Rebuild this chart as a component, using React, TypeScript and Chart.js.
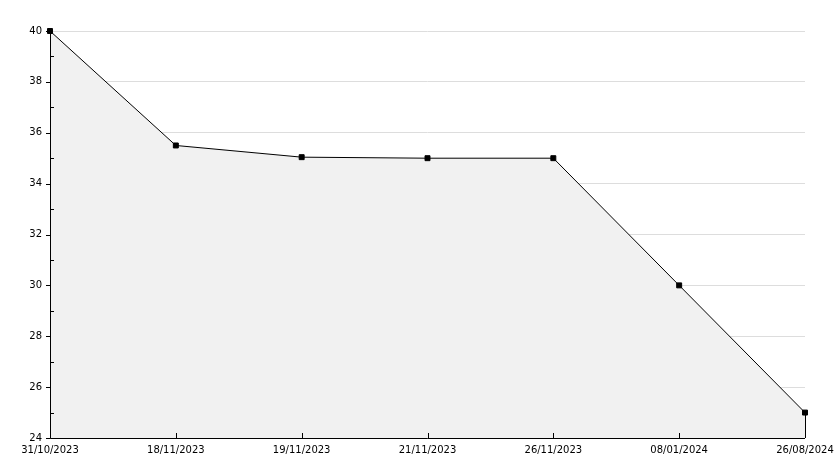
import React, { useEffect, useRef } from "react";
import { Chart, registerables } from "chart.js";

Chart.register(...registerables);

const categories = ["31/10/2023", "18/11/2023", "19/11/2023", "21/11/2023", "26/11/2023", "08/01/2024", "26/08/2024"];
const values = [40, 35.5, 35.04, 35, 35, 30, 25];
const yMin = 24;
const yMax = 40;

const axisPlugin = {
  id: "axisPlugin",
  afterDatasetsDraw(chart: any) {
    const { ctx, chartArea } = chart;
    const { left, right, top, bottom } = chartArea;
    const y = chart.scales.y;
    const x = chart.scales.x;
    ctx.save();
    ctx.strokeStyle = "#000";
    ctx.lineWidth = 1;
    ctx.beginPath();
    ctx.moveTo(left + 0.5, top);
    ctx.lineTo(left + 0.5, bottom + 0.5);
    ctx.lineTo(right, bottom + 0.5);
    for (let v = yMin; v <= yMax; v++) {
      const py = Math.round(y.getPixelForValue(v)) + 0.5;
      if (v % 2 === 0) {
        ctx.moveTo(left - 4, py);
        ctx.lineTo(left + 0.5, py);
      } else {
        ctx.moveTo(left + 0.5, py);
        ctx.lineTo(left + 4, py);
      }
    }
    for (let i = 1; i < categories.length - 1; i++) {
      const px = Math.round(x.getPixelForValue(i)) + 0.5;
      ctx.moveTo(px, bottom);
      ctx.lineTo(px, bottom - 5);
    }
    const lastX = Math.round(x.getPixelForValue(categories.length - 1)) + 0.5;
    ctx.moveTo(lastX, y.getPixelForValue(values[values.length - 1]));
    ctx.lineTo(lastX, bottom);
    ctx.stroke();
    ctx.restore();
  },
};

export default function App() {
  const ref = useRef<HTMLCanvasElement>(null);
  useEffect(() => {
    const chart = new Chart(ref.current!, {
      type: "line",
      data: {
        labels: categories,
        datasets: [
          {
            data: values,
            borderColor: "#000",
            borderWidth: 1,
            backgroundColor: "#f1f1f1",
            fill: "start",
            tension: 0,
            clip: false,
            pointStyle: "rect",
            pointRadius: 3.5,
            pointBackgroundColor: "#000",
            pointBorderColor: "#000",
            pointBorderWidth: 1,
          },
        ],
      },
      options: {
        animation: false,
        responsive: false,
        maintainAspectRatio: false,
        layout: { padding: { left: 0, top: 31, right: 29, bottom: 0 } },
        plugins: { legend: { display: false }, tooltip: { enabled: false } },
        scales: {
          x: {
            type: "category",
            offset: false,
            grid: { display: false, drawTicks: false },
            border: { display: false },
            ticks: {
              autoSkip: false,
              maxRotation: 0,
              padding: 6,
              color: "#000",
              font: { family: "DejaVu Sans", size: 10 },
            },
            afterFit(scale: any) {
              scale.height = 30;
              scale.paddingLeft = 0;
              scale.paddingRight = 0;
            },
          },
          y: {
            min: yMin,
            max: yMax,
            grid: {
              drawTicks: false,
              color: (c: any) => (c.tick && c.tick.value % 2 === 0 ? "#dddddd" : "rgba(0,0,0,0)"),
              lineWidth: 1,
            },
            border: { display: false },
            ticks: {
              stepSize: 1,
              autoSkip: false,
              padding: 8,
              color: "#000",
              font: { family: "DejaVu Sans", size: 10 },
              callback: (v: any) => (Number(v) % 2 === 0 ? String(v) : ""),
            },
            afterFit(scale: any) {
              scale.width = 50;
              scale.paddingTop = 0;
              scale.paddingBottom = 0;
            },
          },
        },
      },
      plugins: [axisPlugin],
    });
    return () => chart.destroy();
  }, []);
  return (
    <div style={{ position: "absolute", left: 0, top: 0, width: 834, height: 468, background: "#fff" }}>
      <canvas ref={ref} width={834} height={468} style={{ width: 834, height: 468 }} />
    </div>
  );
}
